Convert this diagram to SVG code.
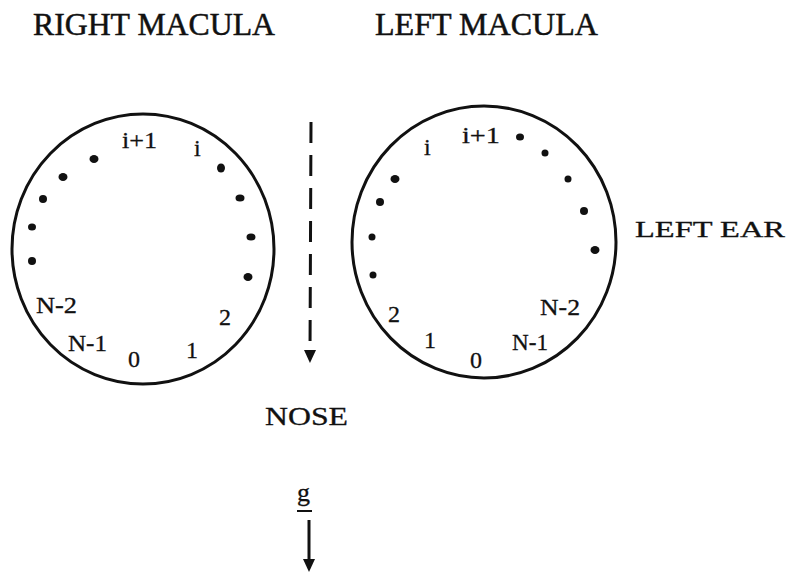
<svg xmlns="http://www.w3.org/2000/svg" width="793" height="577" viewBox="0 0 793 577">
<defs>
<style>
.t{font-family:"Liberation Serif","Times New Roman",serif;fill:#111;stroke:#111;stroke-width:0.3;}
.title{font-size:31px;stroke-width:0.5;}
.lbl{font-size:24px;}
.ring{fill:none;stroke:#111;stroke-width:3;}
.dot{fill:#111;}
.conn{stroke:#111;stroke-width:3;fill:none;}
</style>
<marker id="ah" markerWidth="14" markerHeight="12" refX="4" refY="6" orient="auto" markerUnits="userSpaceOnUse">
<path d="M0,0 L13,6 L0,12 Z" fill="#111"/>
</marker>
</defs>
<rect width="793" height="577" fill="#fff"/>

<g id="titles">
<text class="t title" x="33" y="35" textLength="242" lengthAdjust="spacingAndGlyphs">RIGHT MACULA</text>
<text class="t title" x="375" y="35" textLength="223" lengthAdjust="spacingAndGlyphs">LEFT MACULA</text>
</g>

<g id="right-macula">
<ellipse class="ring" cx="143" cy="249" rx="131" ry="135"/>
<ellipse class="dot" cx="94" cy="159" rx="4.5" ry="4"/>
<ellipse class="dot" cx="63" cy="177" rx="4.5" ry="4"/>
<ellipse class="dot" cx="43" cy="199" rx="4" ry="4"/>
<ellipse class="dot" cx="32" cy="227" rx="4" ry="3.5"/>
<ellipse class="dot" cx="32" cy="261" rx="4" ry="4"/>
<ellipse class="dot" cx="221" cy="168" rx="4" ry="4.5"/>
<ellipse class="dot" cx="240" cy="198" rx="4.5" ry="3.5"/>
<ellipse class="dot" cx="251" cy="237" rx="4.5" ry="3.5"/>
<ellipse class="dot" cx="248" cy="277" rx="4.5" ry="4"/>
<text class="t lbl" x="122" y="148" textLength="35" lengthAdjust="spacingAndGlyphs">i+1</text>
<text class="t lbl" x="194" y="156">i</text>
<text class="t lbl" x="36" y="313" textLength="41" lengthAdjust="spacingAndGlyphs">N-2</text>
<text class="t lbl" x="68" y="351" textLength="39" lengthAdjust="spacingAndGlyphs">N-1</text>
<text class="t lbl" x="128" y="367">0</text>
<text class="t lbl" x="186" y="358">1</text>
<text class="t lbl" x="219" y="325">2</text>
</g>

<g id="left-macula">
<ellipse class="ring" cx="484" cy="242" rx="132" ry="136"/>
<ellipse class="dot" cx="520" cy="137" rx="4" ry="3.5"/>
<ellipse class="dot" cx="545" cy="153" rx="3.5" ry="3.5"/>
<ellipse class="dot" cx="568" cy="179" rx="3.5" ry="3.5"/>
<ellipse class="dot" cx="584" cy="211" rx="4" ry="4"/>
<ellipse class="dot" cx="595" cy="250" rx="4.5" ry="4"/>
<ellipse class="dot" cx="395" cy="179" rx="4.5" ry="4"/>
<ellipse class="dot" cx="380" cy="202" rx="4" ry="4"/>
<ellipse class="dot" cx="372" cy="237" rx="3.5" ry="3.5"/>
<ellipse class="dot" cx="373" cy="275" rx="3.5" ry="3.5"/>
<text class="t lbl" x="424" y="155">i</text>
<text class="t lbl" x="462" y="143" textLength="38" lengthAdjust="spacingAndGlyphs">i+1</text>
<text class="t lbl" x="388" y="322">2</text>
<text class="t lbl" x="424" y="348">1</text>
<text class="t lbl" x="470" y="368">0</text>
<text class="t lbl" x="512" y="350" textLength="36" lengthAdjust="spacingAndGlyphs">N-1</text>
<text class="t lbl" x="540" y="315" textLength="40" lengthAdjust="spacingAndGlyphs">N-2</text>
</g>

<g id="left-ear">
<text class="t" x="635" y="237" font-size="23" textLength="150" lengthAdjust="spacingAndGlyphs">LEFT EAR</text>
</g>

<g id="nose">
<text class="t" x="265" y="425" font-size="25" textLength="83" lengthAdjust="spacingAndGlyphs">NOSE</text>
</g>

<g id="gravity">
<text class="t" x="297" y="501" font-size="26">g</text>
<line x1="297" y1="511" x2="312" y2="511" stroke="#111" stroke-width="2"/>
</g>

<g id="connectors">
<path class="conn" d="M311,122 L310,354" stroke-dasharray="21 12" marker-end="url(#ah)"/>
<path class="conn" d="M309,520 L309,563" stroke-width="2.5" marker-end="url(#ah)"/>
</g>
</svg>
